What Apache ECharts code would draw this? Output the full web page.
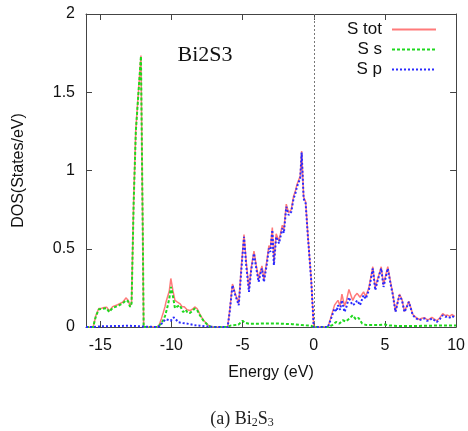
<!DOCTYPE html>
<html>
<head>
<meta charset="utf-8">
<script src="https://cdn.jsdelivr.net/npm/echarts@6/dist/echarts.min.js"></script>
<style>
  html, body { margin: 0; padding: 0; background: #ffffff; }
  #chart { width: 468px; height: 431px; }
</style>
</head>
<body>
<div id="chart"></div>
<script>
// Energy axis tick labels (eV) and DOS axis range
const energyTicks = [-15, -10, -5, 0, 5, 10];
const energyRange = [-16, 10];
const dosTicks = [0, 0.5, 1, 1.5, 2];

const seriesNames = ['S tot', 'S s', 'S p'];

// S total DOS: [energy (eV), states/eV]
const sTot = [
  [-16,0],[-15.5,0],[-15.3,0.075],[-15.1,0.118],[-14.9,0.12],[-14.72,0.125],[-14.55,0.127],[-14.37,0.103],
  [-14.13,0.13],[-13.78,0.142],[-13.43,0.158],[-13.3,0.172],[-13.2,0.186],[-13.05,0.172],[-12.9,0.135],
  [-12.8,0.158],[-12.65,0.81],[-12.5,1.26],[-12.14,1.735],[-12.0,0.5],[-11.95,0],[-11.0,0],[-10.85,0.015],
  [-10.7,0.055],[-10.58,0.09],[-10.45,0.13],[-10.38,0.16],[-10.25,0.17],[-10.15,0.23],[-10.04,0.31],
  [-9.9,0.235],[-9.75,0.17],[-9.6,0.16],[-9.41,0.15],[-9.25,0.13],[-9.1,0.13],[-8.9,0.11],[-8.7,0.105],
  [-8.5,0.115],[-8.36,0.128],[-8.2,0.118],[-8.0,0.082],[-7.77,0.045],[-7.42,0.012],[-7.2,0],[-6.05,0],
  [-5.9,0.11],[-5.71,0.275],[-5.5,0.21],[-5.27,0.15],[-5.1,0.37],[-4.9,0.59],[-4.75,0.42],[-4.55,0.24],
  [-4.4,0.375],[-4.2,0.485],[-4.05,0.4],[-3.87,0.305],[-3.75,0.355],[-3.64,0.39],[-3.5,0.305],[-3.3,0.42],
  [-3.15,0.52],[-3.05,0.5],[-2.91,0.635],[-2.8,0.415],[-2.64,0.595],[-2.44,0.55],[-2.21,0.65],[-2.1,0.62],
  [-1.93,0.785],[-1.77,0.73],[-1.58,0.75],[-1.42,0.835],[-1.3,0.865],[-1.18,0.91],[-1.04,0.92],[-0.95,0.965],
  [-0.85,1.125],[-0.71,0.83],[-0.57,0.8],[-0.41,0.585],[-0.18,0.305],[0,0],[1.0,0],[1.2,0.06],[1.46,0.14],
  [1.6,0.13],[1.7,0.17],[1.85,0.135],[1.98,0.21],[2.16,0.135],[2.3,0.17],[2.47,0.24],[2.56,0.246],[2.74,0.17],
  [2.9,0.2],[3.05,0.215],[3.25,0.19],[3.5,0.225],[3.65,0.195],[3.87,0.25],[4.15,0.385],[4.32,0.25],[4.5,0.31],
  [4.74,0.385],[4.9,0.27],[5.2,0.385],[5.39,0.29],[5.56,0.21],[5.74,0.1],[6.02,0.21],[6.2,0.175],[6.37,0.1],
  [6.5,0.125],[6.68,0.165],[6.96,0.08],[7.2,0.06],[7.42,0.048],[7.6,0.056],[7.78,0.06],[7.95,0.046],
  [8.12,0.05],[8.3,0.062],[8.45,0.052],[8.64,0.04],[8.85,0.058],[9.06,0.085],[9.25,0.073],[9.4,0.076],
  [9.55,0.068],[9.7,0.08],[9.9,0.068]
];

// S s-orbital projected DOS
const sS = [
  [-16,0],[-15.5,0],[-15.3,0.07],[-15.1,0.113],[-14.9,0.115],[-14.72,0.118],[-14.55,0.12],[-14.37,0.096],
  [-14.13,0.122],[-13.78,0.134],[-13.43,0.15],[-13.3,0.16],[-13.2,0.171],[-13.05,0.165],[-12.9,0.128],
  [-12.8,0.15],[-12.65,0.8],[-12.5,1.25],[-12.14,1.73],[-12.0,0.5],[-11.95,0],[-11.0,0],[-10.85,0.01],
  [-10.7,0.025],[-10.58,0.043],[-10.45,0.07],[-10.3,0.12],[-10.15,0.18],[-10.03,0.256],[-9.9,0.2],
  [-9.75,0.12],[-9.6,0.13],[-9.41,0.139],[-9.18,0.096],[-9.0,0.11],[-8.85,0.09],[-8.7,0.09],[-8.5,0.105],
  [-8.36,0.118],[-8.2,0.11],[-8.0,0.075],[-7.77,0.043],[-7.42,0.01],[-7.2,0],[-6.1,0],[-5.8,0.01],
  [-5.3,0.015],[-5.0,0.04],[-4.85,0.028],[-4.5,0.02],[-3.5,0.022],[-2.5,0.022],[-1.5,0.018],[-0.8,0.012],
  [-0.2,0.008],[0,0],[1.0,0],[1.3,0.012],[1.57,0.032],[1.8,0.022],[2.04,0.043],[2.25,0.035],[2.5,0.054],
  [2.74,0.075],[2.95,0.05],[3.15,0.058],[3.4,0.022],[3.7,0.012],[4.5,0.012],[5.0,0.016],[5.3,0.01],
  [6,0.006],[7,0.006],[8,0.008],[9,0.01],[10,0.01]
];

// S p-orbital projected DOS
const sP = [
  [-16,0],[-15.5,0],[-15,0.004],[-14,0.006],[-13,0.008],[-12.5,0.006],[-12.0,0.003],[-11.0,0],[-10.85,0.005],
  [-10.6,0.03],[-10.4,0.05],[-10.2,0.045],[-10.05,0.04],[-9.85,0.062],[-9.7,0.05],[-9.5,0.03],[-9.2,0.025],
  [-8.8,0.02],[-8.4,0.012],[-8.0,0.008],[-7.5,0.004],[-7.0,0],[-6.05,0],[-5.9,0.1],[-5.71,0.267],[-5.5,0.2],
  [-5.27,0.139],[-5.1,0.35],[-4.9,0.576],[-4.75,0.4],[-4.55,0.224],[-4.4,0.36],[-4.2,0.47],[-4.05,0.38],
  [-3.87,0.288],[-3.75,0.34],[-3.64,0.374],[-3.5,0.288],[-3.3,0.4],[-3.15,0.502],[-3.05,0.48],[-2.91,0.62],
  [-2.8,0.395],[-2.64,0.576],[-2.44,0.534],[-2.21,0.63],[-2.1,0.6],[-1.93,0.768],[-1.77,0.715],[-1.58,0.736],
  [-1.42,0.82],[-1.3,0.85],[-1.18,0.896],[-1.04,0.907],[-0.95,0.95],[-0.85,1.114],[-0.71,0.82],[-0.57,0.79],
  [-0.41,0.576],[-0.18,0.3],[0,0],[1.0,0],[1.2,0.05],[1.46,0.118],[1.6,0.1],[1.7,0.139],[1.85,0.11],
  [1.98,0.171],[2.16,0.096],[2.3,0.13],[2.47,0.19],[2.6,0.16],[2.74,0.139],[2.9,0.15],[3.05,0.17],[3.25,0.14],
  [3.5,0.203],[3.65,0.18],[3.87,0.235],[4.15,0.374],[4.32,0.235],[4.5,0.3],[4.74,0.374],[4.9,0.256],
  [5.2,0.374],[5.39,0.278],[5.56,0.203],[5.74,0.096],[6.02,0.203],[6.2,0.17],[6.37,0.096],[6.5,0.12],
  [6.68,0.16],[6.96,0.075],[7.2,0.055],[7.42,0.043],[7.6,0.05],[7.78,0.054],[7.95,0.04],[8.12,0.043],
  [8.3,0.055],[8.45,0.045],[8.64,0.032],[8.85,0.05],[9.06,0.075],[9.25,0.065],[9.4,0.068],[9.55,0.06],
  [9.7,0.07],[9.9,0.06]
];

const sansFont = '"Liberation Sans", Arial, sans-serif';
const serifFont = '"Liberation Serif", "Times New Roman", serif';
const frameColor = '#444444';
const labelColor = '#111111';
const totColor = '#ff7a7a';
const sColor = '#1ed81e';
const pColor = '#2a2aff';

const chart = echarts.init(document.getElementById('chart'), null, { renderer: 'canvas' });

// Shared styling for the boxed frame with inward ticks on all four sides
function energyAxis(pos, showLabels) {
  return {
    type: 'value',
    position: pos,
    min: energyRange[0],
    max: energyRange[1],
    name: showLabels ? 'Energy (eV)' : '',
    nameLocation: 'middle',
    nameGap: 38,
    nameTextStyle: { fontFamily: sansFont, fontSize: 16, color: labelColor },
    axisLine: { show: true, onZero: false, lineStyle: { color: frameColor, width: 1 } },
    axisTick: { show: true, inside: true, length: 6, customValues: energyTicks, lineStyle: { color: frameColor } },
    axisLabel: {
      show: showLabels, customValues: energyTicks, margin: 11,
      fontFamily: sansFont, fontSize: 16, color: labelColor
    },
    splitLine: { show: false }
  };
}

function dosAxis(pos, showLabels) {
  return {
    type: 'value',
    position: pos,
    min: dosTicks[0],
    max: dosTicks[dosTicks.length - 1],
    interval: 0.5,
    name: showLabels ? 'DOS(States/eV)' : '',
    nameLocation: 'middle',
    nameGap: 59,
    nameTextStyle: { fontFamily: sansFont, fontSize: 16, color: labelColor },
    axisLine: { show: true, onZero: false, lineStyle: { color: frameColor, width: 1 } },
    axisTick: { show: true, inside: true, length: 6, lineStyle: { color: frameColor } },
    axisLabel: {
      show: showLabels, margin: 11,
      fontFamily: sansFont, fontSize: 16, color: labelColor
    },
    splitLine: { show: false }
  };
}

const option = {
  animation: false,
  backgroundColor: '#ffffff',
  grid: { left: 86, top: 14, width: 371, height: 313, containLabel: false },
  xAxis: [energyAxis('bottom', true), energyAxis('top', false)],
  yAxis: [dosAxis('left', true), dosAxis('right', false)],
  legend: {
    data: seriesNames,
    orient: 'vertical',
    align: 'right',
    right: 31,
    top: 21,
    padding: 0,
    itemWidth: 44,
    itemHeight: 14,
    itemGap: 3,
    // hide the marker dot so only the line sample is drawn
    itemStyle: { opacity: 0 },
    textStyle: { fontFamily: sansFont, fontSize: 17, lineHeight: 16, color: labelColor, padding: [0, 5, 0, 0] }
  },
  series: [
    {
      name: seriesNames[0],
      type: 'line',
      data: sTot,
      symbol: 'none',
      smooth: false,
      z: 2,
      lineStyle: { color: totColor, width: 1.5, type: 'solid' },
      itemStyle: { color: totColor },
      markLine: {
        silent: true,
        symbol: 'none',
        label: { show: false },
        lineStyle: { color: '#777777', type: [2, 2], width: 1 },
        data: [{ xAxis: 0 }]
      }
    },
    {
      name: seriesNames[1],
      type: 'line',
      data: sS,
      symbol: 'none',
      smooth: false,
      z: 3,
      lineStyle: { color: sColor, width: 2, type: [3, 2] },
      itemStyle: { color: sColor }
    },
    {
      name: seriesNames[2],
      type: 'line',
      data: sP,
      symbol: 'none',
      smooth: false,
      z: 4,
      lineStyle: { color: pColor, width: 2, type: [2, 2] },
      itemStyle: { color: pColor }
    }
  ],
  graphic: [
    {
      type: 'text',
      x: 205,
      y: 55,
      style: {
        text: 'Bi2S3',
        font: '22px ' + serifFont,
        fill: '#111111',
        textAlign: 'center',
        textVerticalAlign: 'middle'
      }
    },
    {
      type: 'text',
      x: 242,
      y: 419,
      style: {
        text: '(a) Bi{sub|2}S{sub|3}',
        fontFamily: serifFont,
        fontSize: 18,
        fill: '#222222',
        align: 'center',
        verticalAlign: 'middle',
        rich: {
          sub: { fontFamily: serifFont, fontSize: 12, fill: '#222222', padding: [8, 0, 0, 0] }
        }
      }
    }
  ]
};

chart.setOption(option);
</script>
</body>
</html>
